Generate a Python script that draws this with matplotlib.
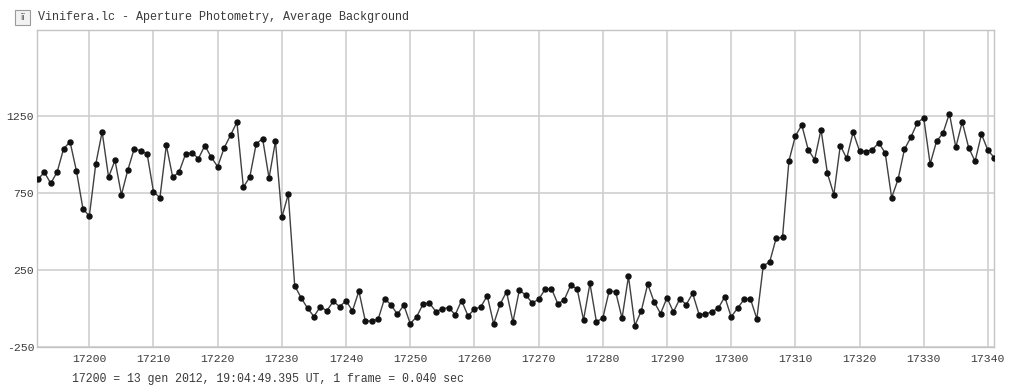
import numpy as np
import matplotlib
matplotlib.use("Agg")
import matplotlib.pyplot as plt
from matplotlib.patches import Rectangle

# Light curve: one sample per frame
first_frame = 17192
flux = [
    841, 885, 813, 889, 1039, 1083, 893, 650, 600, 937,
    1148, 854, 963, 739, 900, 1039, 1024, 1007, 759, 720,
    1061, 852, 889, 1004, 1013, 974, 1059, 983, 922, 1043,
    1126, 1211, 789, 854, 1070, 1104, 848, 1087, 593, 743,
    148, 70, 2, -52, 13, -15, 46, 13, 50, -15,
    113, -81, -81, -70, 65, 24, -37, 22, -98, -54,
    30, 35, -20, -2, 6, -41, 52, -48, -4, 11,
    83, -100, 28, 109, -87, 120, 87, 37, 59, 124,
    130, 30, 57, 152, 128, -74, 163, -85, -63, 115,
    109, -63, 209, -111, -15, 159, 43, -33, 70, -22,
    63, 26, 98, -39, -37, -20, 2, 76, -54, 2,
    59, 63, -67, 278, 302, 456, 463, 959, 1120, 1193,
    1033, 967, 1163, 878, 741, 1059, 976, 1146, 1024, 1020,
    1033, 1076, 1011, 720, 839, 1035, 1113, 1207, 1239, 939,
    1087, 1139, 1267, 1048, 1213, 1046, 957, 1133, 1028, 980,
]
frames = np.arange(first_frame, first_frame + len(flux))

x_ticks = list(range(17200, 17341, 10))
y_ticks = [-250, 250, 750, 1250]

title_text = "Vinifera.lc - Aperture Photometry, Average Background"
footer_text = "17200 = 13 gen 2012, 19:04:49.395 UT, 1 frame = 0.040 sec"

mono = "Liberation Mono"
text_color = "#3a3a3a"
grid_color = "#cfcfcf"

fig = plt.figure(figsize=(10.11, 3.86), dpi=100)
ax = fig.add_axes([37 / 1011, 1 - 347 / 386, (994 - 37) / 1011, (347 - 30) / 386])

ax.plot(frames, flux, color="#404040", lw=1.0, marker="o", ms=3.6,
        mfc="#111111", mec="#111111", zorder=3)

ax.set_xlim(17191.85, 17340.95)
ax.set_ylim(-250, 1810)
ax.set_xticks(x_ticks)
ax.set_yticks(y_ticks)
ax.set_xticklabels([str(v) for v in x_ticks], family=mono, fontsize=8.2, color=text_color)
ax.set_yticklabels([str(v) for v in y_ticks], family=mono, fontsize=8.2, color=text_color)
ax.tick_params(axis="both", length=0)
ax.tick_params(axis="x", pad=5)
ax.tick_params(axis="y", pad=2)
ax.grid(True, color=grid_color, lw=1.2)
ax.set_axisbelow(True)
for s in ax.spines.values():
    s.set_color("#c4c4c4")
    s.set_linewidth(1.0)

# Window title with small icon
fig.patches.append(Rectangle((15 / 1011, 1 - 25 / 386), 15 / 1011, 15 / 386,
                             transform=fig.transFigure, facecolor="#f2f2f2",
                             edgecolor="#9a9a9a", lw=0.8))
fig.text(22.5 / 1011, 1 - 17.5 / 386, "ïï", family="DejaVu Sans", fontsize=6,
         color="#555555", ha="center", va="center")
fig.text(38 / 1011, 1 - 17 / 386, title_text, family=mono, fontsize=8.5,
         color=text_color, ha="left", va="center")
fig.text(72 / 1011, 1 - 379 / 386, footer_text, family=mono, fontsize=8.3,
         color=text_color, ha="left", va="center")

fig.savefig("out.png", dpi=100, facecolor="white")
